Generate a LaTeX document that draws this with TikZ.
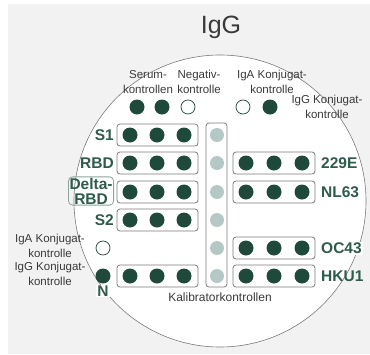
\documentclass[tikz,border=0pt]{standalone}
\usepackage{fontspec}
\setmainfont{Liberation Sans}
\definecolor{spotgreen}{HTML}{1F4A3B}
\definecolor{namegreen}{HTML}{2D5C4C}
\definecolor{calgray}{HTML}{B4C8C6}
\definecolor{txtgray}{HTML}{3A3A3A}
\definecolor{rimgray}{HTML}{7A7A7A}
\definecolor{bggray}{HTML}{F2F2F2}
\begin{document}
\begin{tikzpicture}[x=1pt,y=-1pt,
        spot/.style={circle,fill=spotgreen,minimum size=15pt,inner sep=0pt},
        openspot/.style={circle,draw=spotgreen,fill=white,line width=0.7pt,minimum size=14pt,inner sep=0pt},
        calspot/.style={circle,fill=calgray,minimum size=14pt,inner sep=0pt},
        strip/.style={draw=rimgray,fill=white,line width=0.8pt,rounded corners=3pt},
        antigen/.style={text=namegreen,font=\fontsize{15.5}{15}\selectfont\bfseries,inner sep=1pt},
        note/.style={text=txtgray,font=\fontsize{11.5}{14.5}\selectfont,align=center,inner sep=0pt}]
    \useasboundingbox (0,0) rectangle (370,354);
    \fill [bggray] (8,4) rectangle (370,354);
    \draw [rimgray,fill=white,line width=0.6pt] (220,201) circle (146pt);
    \node [text=txtgray,font=\fontsize{25}{28}\selectfont] (title) at (221,27) {IgG};
    % control spots on top
    \node [note] (serumlab) at (148,82) {Serum-\\kontrollen};
    \node [note] (neglab) at (199,82) {Negativ-\\kontrolle};
    \node [note] (igalab) at (272,82) {IgA Konjugat-\\kontrolle};
    \node [note] (igglab) at (327,107) {IgG Konjugat-\\kontrolle};
    \node [spot] (serum1) at (137,107) {};
    \node [spot] (serum2) at (162,107) {};
    \node [openspot] (neg) at (188,107) {};
    \node [openspot] (iga) at (243,107) {};
    \node [spot] (igg) at (270,107) {};
    % left strips
    \foreach \y in {135,163,192,220,276}{
        \draw [strip] (117,\y-11) rectangle (198,\y+11);
        \foreach \x in {130,157,184} \node [spot] (l-\x-\y) at (\x,\y) {};
    }
    % right strips
    \foreach \y in {163,192,248,276}{
        \draw [strip] (233,\y-11) rectangle (315,\y+11);
        \foreach \x in {246,274,302} \node [spot] (r-\x-\y) at (\x,\y) {};
    }
    % calibrator column
    \draw [strip] (206,123) rectangle (227,287);
    \foreach \y in {135,163,192,220,248,276} \node [calspot] (cal-\y) at (217,\y) {};
    \node [note,font=\fontsize{12}{14}\selectfont] (callab) at (220,297) {Kalibratorkontrollen};
    % names
    \node [antigen,anchor=east] (s1) at (115,135) {S1};
    \node [antigen,anchor=east] (rbd) at (115,163) {RBD};
    \node [antigen,anchor=east,align=center,draw=namegreen!55,line width=0.8pt,rounded corners=4pt] (delta) at (114,191) {Delta-\\RBD};
    \node [antigen,anchor=east] (s2) at (115,220) {S2};
    \node [antigen,anchor=west] (e229) at (320,163) {229E};
    \node [antigen,anchor=west] (nl63) at (320,192) {NL63};
    \node [antigen,anchor=west,fill=white] (oc43) at (320,248) {OC43};
    \node [antigen,anchor=west] (hku1) at (320,276) {HKU1};
    % conjugate spots on the left
    \node [note] (igalab2) at (50,246) {IgA Konjugat-\\kontrolle};
    \node [note] (igglab2) at (50,274) {IgG Konjugat-\\kontrolle};
    \node [openspot] (iga2) at (103,248) {};
    \node [spot] (igg2) at (103,276) {};
    \node [antigen,fill=white] (n) at (103,291) {N};
\end{tikzpicture}
\end{document}
